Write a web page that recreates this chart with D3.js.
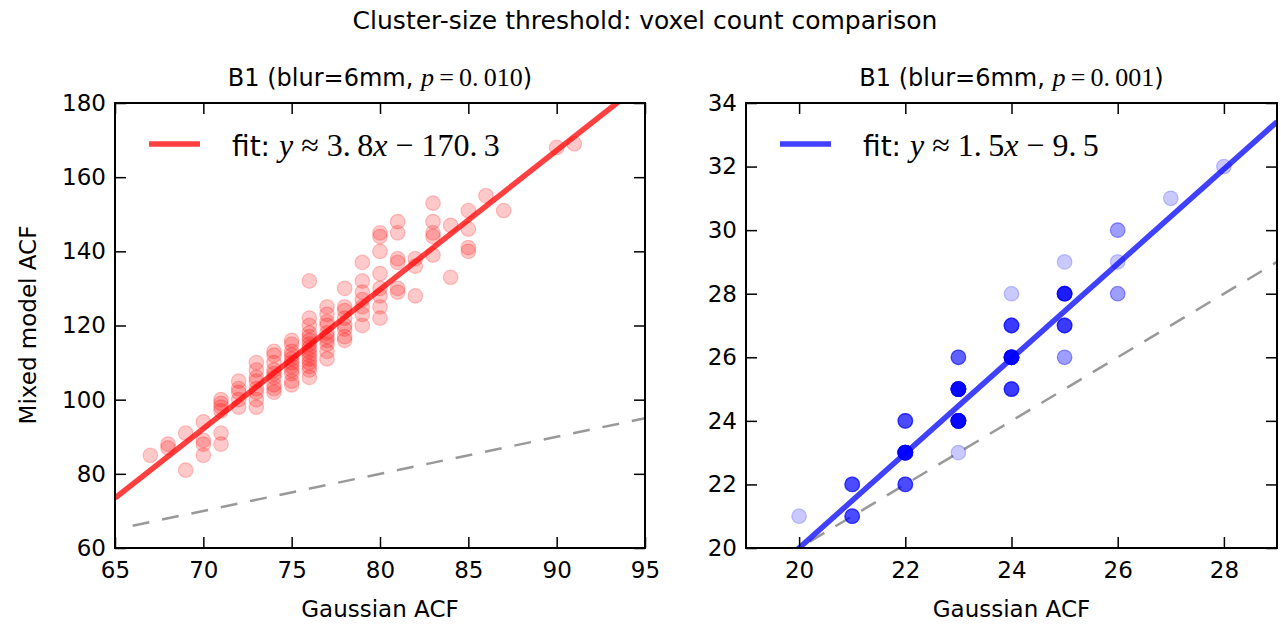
<!DOCTYPE html>
<html>
<head>
<meta charset="utf-8">
<script src="https://cdn.jsdelivr.net/npm/d3@7"></script>
<style>
  body { margin: 0; background: #fff; }
  text { font-family: "DejaVu Sans", sans-serif; fill: #000; }
  .math { font-family: "Liberation Serif", "DejaVu Serif", serif; }
</style>
</head>
<body>
<div id="chart"></div>
<script>
// left panel: p = 0.010, one entry per voxel-count pair
var leftX = [67, 68, 68, 69, 69, 70, 70, 70, 70, 71, 71, 71, 71, 71, 71,
  72, 72, 72, 72, 72, 73, 73, 73, 73, 73, 73, 73, 73,
  74, 74, 74, 74, 74, 74, 74, 74, 74,
  75, 75, 75, 75, 75, 75, 75, 75, 75, 75, 75,
  76, 76, 76, 76, 76, 76, 76, 76, 76, 76, 76, 76, 76, 76, 76,
  77, 77, 77, 77, 77, 77, 77, 77, 77, 77,
  78, 78, 78, 78, 78, 78, 78, 78,
  79, 79, 79, 79, 79, 79, 79,
  80, 80, 80, 80, 80, 80, 80, 80,
  81, 81, 81, 81, 81, 81, 82, 82, 82,
  83, 83, 83, 83, 83, 84, 84, 85, 85, 85, 85, 86, 87, 90, 91];
var leftY = [85, 87, 88, 91, 81, 94, 89, 88, 85, 100, 99, 98, 97, 91, 88,
  105, 103, 102, 100, 98, 110, 108, 106, 105, 103, 102, 100, 98,
  113, 112, 110, 108, 107, 106, 104, 103, 102,
  116, 115, 113, 112, 111, 110, 109, 108, 107, 105, 104,
  132, 122, 120, 118, 117, 116, 115, 114, 113, 112, 111, 110, 109, 108, 106,
  125, 123, 121, 120, 118, 117, 116, 115, 113, 111,
  130, 125, 124, 122, 120, 119, 117, 116,
  137, 132, 129, 127, 125, 123, 120,
  145, 144, 140, 134, 130, 128, 125, 122,
  148, 145, 138, 137, 130, 129, 138, 136, 128,
  153, 148, 145, 144, 139, 147, 133, 151, 146, 141, 140, 155, 151, 168, 169];

// right panel: p = 0.001, distinct pairs with how many times each occurs
var rightX = [20, 21, 21, 22, 22, 22, 23, 23, 23, 23, 24, 24, 24, 24, 25, 25, 25, 25, 26, 26, 26, 27, 28];
var rightY = [21, 22, 21, 24, 23, 22, 26, 25, 24, 23, 28, 27, 26, 25, 29, 28, 27, 26, 30, 29, 28, 31, 32];
var rightN = [1, 5, 5, 5, 14, 5, 4, 14, 14, 1, 1, 6, 14, 6, 1, 9, 6, 2, 2, 1, 2, 1, 1];

// fitted lines (slope, intercept) and legend numbers
var leftFit = [3.75, -170.3];
var rightFit = [1.49, -9.8];
var leftFitLabel = ["3.", "8", "170.", "3"];
var rightFitLabel = ["1.", "5", "9.", "5"];

// axis ticks
var leftXTicks = [65, 70, 75, 80, 85, 90, 95];
var leftYTicks = [60, 80, 100, 120, 140, 160, 180];
var rightXTicks = [20, 22, 24, 26, 28];
var rightYTicks = [20, 22, 24, 26, 28, 30, 32, 34];

var W = 1281, H = 627;

var svg = d3.select("#chart")
  .append("svg")
  .attr("width", W)
  .attr("height", H);

// figure title
svg.append("text")
  .attr("x", 645)
  .attr("y", 29)
  .attr("text-anchor", "middle")
  .style("font-size", "25px")
  .text("Cluster-size threshold: voxel count comparison");

function drawPanel(o) {
  var x = d3.scaleLinear().domain(o.xDomain).range([o.left, o.right]);
  var y = d3.scaleLinear().domain(o.yDomain).range([548, 103]);

  var clipId = "clip-" + o.name;
  svg.append("clipPath")
    .attr("id", clipId)
    .append("rect")
    .attr("x", o.left)
    .attr("y", 103)
    .attr("width", o.right - o.left)
    .attr("height", 548 - 103);

  var g = svg.append("g").attr("clip-path", "url(#" + clipId + ")");

  // identity line
  g.append("line")
    .attr("x1", x(o.idFrom)).attr("y1", y(o.idFrom))
    .attr("x2", x(o.idTo)).attr("y2", y(o.idTo))
    .attr("stroke", "#999")
    .attr("stroke-width", 2.5)
    .attr("stroke-dasharray", "17,13");

  // scatter
  g.selectAll("circle.pt")
    .data(o.points)
    .enter()
    .append("circle")
    .attr("class", "pt")
    .attr("cx", d => x(d[0]))
    .attr("cy", d => y(d[1]))
    .attr("r", 7.3)
    .attr("fill", o.color)
    .attr("fill-opacity", 0.21)
    .attr("stroke", o.color)
    .attr("stroke-opacity", 0.21)
    .attr("stroke-width", 1.2);

  // fit line
  var x0 = o.xDomain[0], x1 = o.xDomain[1];
  g.append("line")
    .attr("x1", x(x0)).attr("y1", y(o.fit[0] * x0 + o.fit[1]))
    .attr("x2", x(x1)).attr("y2", y(o.fit[0] * x1 + o.fit[1]))
    .attr("stroke", o.color)
    .attr("stroke-opacity", 0.75)
    .attr("stroke-width", 5.5);

  // axes with inward ticks on all four sides
  var fmt = d3.format("d");
  var bottom = svg.append("g")
    .attr("transform", "translate(0,548)")
    .call(d3.axisBottom(x).tickValues(o.xTicks).tickFormat(fmt)
      .tickSizeInner(-11).tickSizeOuter(0).tickPadding(14));
  var top = svg.append("g")
    .attr("transform", "translate(0,103)")
    .call(d3.axisTop(x).tickValues(o.xTicks).tickFormat("")
      .tickSizeInner(-11).tickSizeOuter(0));
  var leftAx = svg.append("g")
    .attr("transform", "translate(" + o.left + ",0)")
    .call(d3.axisLeft(y).tickValues(o.yTicks).tickFormat(fmt)
      .tickSizeInner(-11).tickSizeOuter(0).tickPadding(9));
  var rightAx = svg.append("g")
    .attr("transform", "translate(" + o.right + ",0)")
    .call(d3.axisRight(y).tickValues(o.yTicks).tickFormat("")
      .tickSizeInner(-11).tickSizeOuter(0));

  [bottom, top, leftAx, rightAx].forEach(function(a) {
    a.select(".domain").remove();
    a.selectAll("line").attr("stroke", "#000").attr("stroke-width", 1.5);
    a.selectAll("text")
      .style("font-family", "DejaVu Sans, sans-serif")
      .style("font-size", "23px")
      .attr("fill", "#000");
  });
  bottom.selectAll("text").attr("dy", "0.71em");

  // frame
  svg.append("rect")
    .attr("x", o.left)
    .attr("y", 103)
    .attr("width", o.right - o.left)
    .attr("height", 548 - 103)
    .attr("fill", "none")
    .attr("stroke", "#000")
    .attr("stroke-width", 2);

  // panel title
  var t = svg.append("text")
    .attr("x", (o.left + o.right) / 2)
    .attr("y", 86)
    .attr("text-anchor", "middle")
    .style("font-size", "24px");
  t.append("tspan").text("B1 (blur=6mm, ");
  t.append("tspan").attr("class", "math").style("font-style", "italic").style("font-size", "26px").text("p");
  t.append("tspan").attr("class", "math").style("font-size", "26px").text("\u2009=\u20090.\u2009" + o.pLabel);
  t.append("tspan").text(")");

  // x axis label
  svg.append("text")
    .attr("x", (o.left + o.right) / 2)
    .attr("y", 617)
    .attr("text-anchor", "middle")
    .style("font-size", "23px")
    .text("Gaussian ACF");

  // legend
  svg.append("line")
    .attr("x1", o.left + 34).attr("x2", o.left + 85)
    .attr("y1", 144).attr("y2", 144)
    .attr("stroke", o.color)
    .attr("stroke-opacity", 0.75)
    .attr("stroke-width", 5.5);
  var lg = svg.append("text")
    .attr("x", o.left + 117)
    .attr("y", 156)
    .style("font-size", "28px");
  lg.append("tspan").text("fit: ");
  var m = function(s, it) {
    return lg.append("tspan").attr("class", "math")
      .style("font-size", "32px")
      .style("font-style", it ? "italic" : "normal")
      .text(s);
  };
  m("y", true);
  m(" \u2248 " + o.fitLabel[0] + "\u2009" + o.fitLabel[1]);
  m("x", true);
  m(" \u2212 " + o.fitLabel[2] + "\u2009" + o.fitLabel[3]);
}

var leftPoints = leftX.map((v, i) => [v, leftY[i]]);
var rightPoints = [];
rightX.forEach(function(v, i) {
  for (var k = 0; k < rightN[i]; k++) rightPoints.push([v, rightY[i]]);
});

drawPanel({
  name: "left", left: 115, right: 645,
  xDomain: [65, 95], yDomain: [60, 180],
  xTicks: leftXTicks, yTicks: leftYTicks,
  points: leftPoints, color: "#ff0000",
  fit: leftFit, fitLabel: leftFitLabel,
  idFrom: 66, idTo: 95, pLabel: "010"
});

drawPanel({
  name: "right", left: 746, right: 1277,
  xDomain: [19, 29], yDomain: [20, 34],
  xTicks: rightXTicks, yTicks: rightYTicks,
  points: rightPoints, color: "#0000ff",
  fit: rightFit, fitLabel: rightFitLabel,
  idFrom: 20.2, idTo: 29, pLabel: "001"
});

// y axis label (left panel only)
svg.append("text")
  .attr("transform", "translate(36,325) rotate(-90)")
  .attr("text-anchor", "middle")
  .style("font-size", "23px")
  .text("Mixed model ACF");
</script>
</body>
</html>
